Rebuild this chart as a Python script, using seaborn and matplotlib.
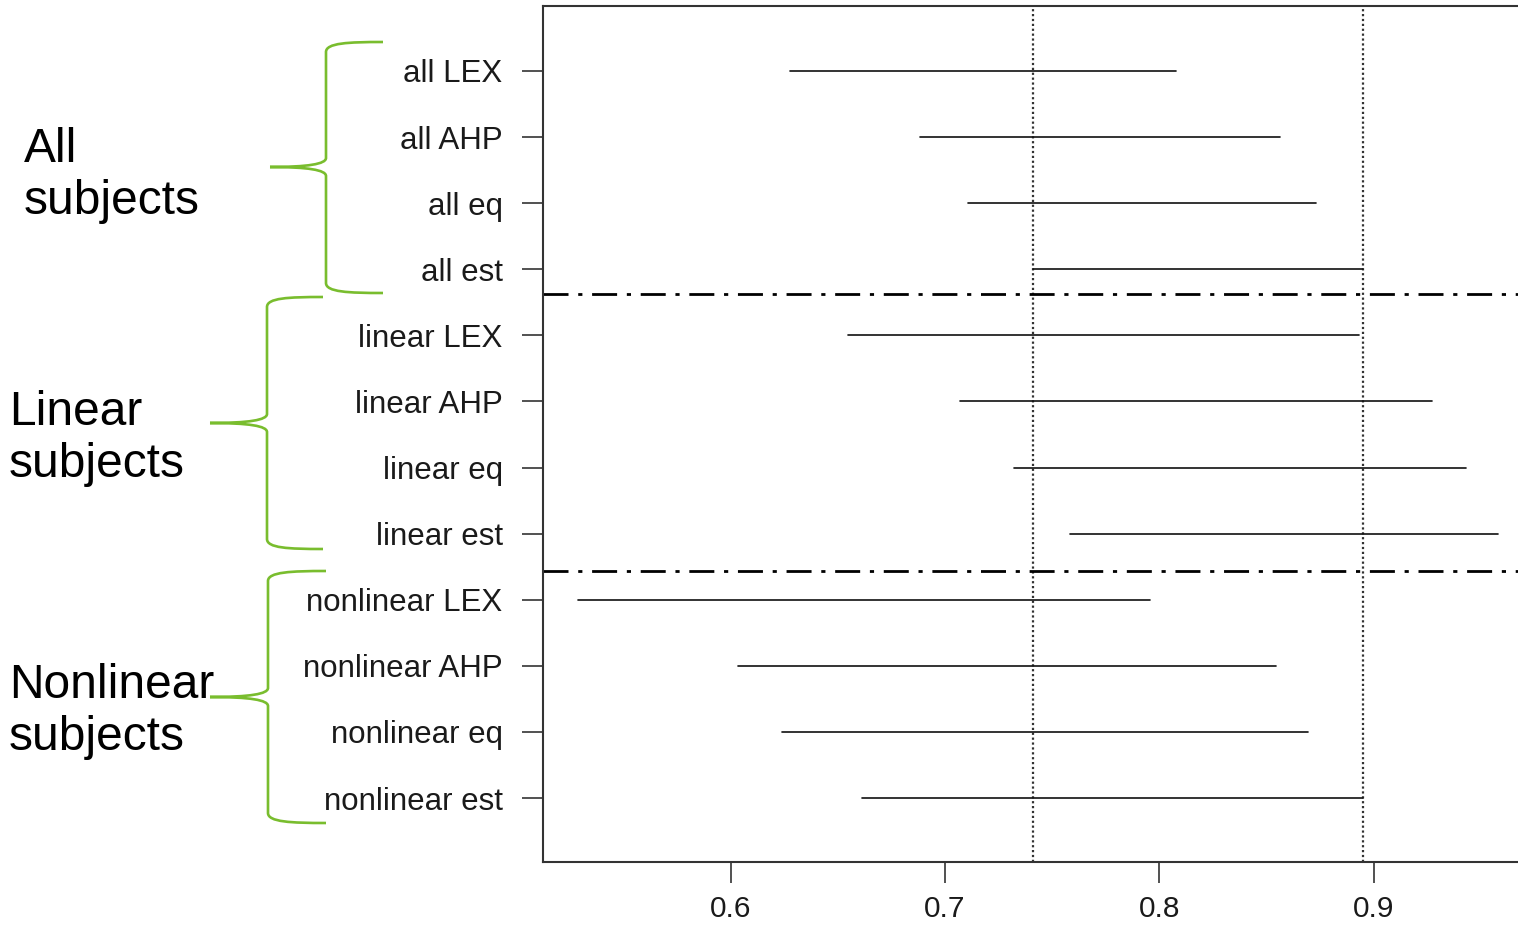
import pandas as pd
import seaborn as sns
import matplotlib.pyplot as plt
from matplotlib.path import Path
from matplotlib.patches import PathPatch

# -------------------------- Data --------------------------
LABELS = ["all LEX", "all AHP", "all eq", "all est",
          "linear LEX", "linear AHP", "linear eq", "linear est",
          "nonlinear LEX", "nonlinear AHP", "nonlinear eq", "nonlinear est"]
LOWER = [0.6276, 0.6883, 0.7107, 0.7410,
         0.6547, 0.7070, 0.7322, 0.7583,
         0.5287, 0.6034, 0.6239, 0.6612]
UPPER = [0.8078, 0.8563, 0.8731, 0.8950,
         0.8932, 0.9272, 0.9431, 0.9580,
         0.7956, 0.8544, 0.8693, 0.8950]
REF_LINES = [0.741, 0.895]          # dotted reference values
GROUP_BREAKS = [3.37, 7.57]          # dash-dot separators between groups
GROUPS = ["All\nsubjects", "Linear\nsubjects", "Nonlinear\nsubjects"]
XTICKS = [0.6, 0.7, 0.8, 0.9]

# long format: one row per interval end
df = pd.DataFrame({
    "label": LABELS * 2,
    "value": LOWER + UPPER,
})

# -------------------------- Setup --------------------------
sns.set_theme(style="ticks")
plt.rcParams["font.family"] = ["Liberation Sans", "DejaVu Sans"]

W, H = 1518, 925
fig = plt.figure(figsize=(W / 100, H / 100), dpi=100)
fig.patch.set_facecolor("white")
ax = fig.add_axes([543 / W, 1 - 862 / H, (1530 - 543) / W, (862 - 6) / H])

# -------------------------- Intervals --------------------------
sns.pointplot(
    data=df, x="value", y="label", order=LABELS,
    estimator="mean", errorbar=lambda v: (v.min(), v.max()),
    color="#111111", marker="", linestyle="none",
    err_kws={"linewidth": 1.2}, ax=ax,
)

for v in REF_LINES:
    ax.axvline(v, color="#333333", lw=1.6, linestyle=(0, (1, 1.2)), zorder=1)
for y in GROUP_BREAKS:
    ax.axhline(y, color="black", lw=2.0, linestyle=(0, (9, 3.5, 1.5, 3.5)), zorder=1)

ax.set_xlim(0.51237, 0.97294)
ax.set_ylim(11.968, -0.983)
ax.set_xticks(XTICKS)
ax.set_xticklabels([f"{t:.1f}" for t in XTICKS])
ax.set_xlabel("")
ax.set_ylabel("")
ax.tick_params(axis="both", direction="out", length=15, width=1.2, color="#333333",
               labelsize=22, labelcolor="#1a1a1a")
ax.tick_params(axis="x", pad=9, labelsize=21.5)
ax.tick_params(axis="y", pad=14, labelsize=22.5)
for s in ax.spines.values():
    s.set_visible(True)
    s.set_linewidth(1.5)
    s.set_color("#333333")

# -------------------------- Group annotations --------------------------
def fpt(x, y):
    return (x / W, 1 - y / H)


def brace(xs, xe, xt, yt, ym, yb, arm=10, tip=9):
    verts = [
        (xe, yt),
        (xe - 35, yt), (xs, yt + 1), (xs, yt + arm),
        (xs, ym - tip),
        (xs, ym - 3), (xs - 18, ym), (xt, ym),
        (xs - 18, ym), (xs, ym + 3), (xs, ym + tip),
        (xs, yb - arm),
        (xs, yb - 1), (xe - 35, yb), (xe, yb),
    ]
    codes = [Path.MOVETO,
             Path.CURVE4, Path.CURVE4, Path.CURVE4,
             Path.LINETO,
             Path.CURVE4, Path.CURVE4, Path.CURVE4,
             Path.CURVE4, Path.CURVE4, Path.CURVE4,
             Path.LINETO,
             Path.CURVE4, Path.CURVE4, Path.CURVE4]
    p = Path([fpt(*v) for v in verts], codes)
    fig.patches.append(PathPatch(p, facecolor="none", edgecolor="#79BD2E", lw=1.9,
                                 transform=fig.transFigure, figure=fig))


brace(326, 383, 270, 42, 167, 293)
brace(267, 323, 210, 297, 423, 549)
brace(268, 326, 210, 571, 697, 823)

label_pos = [(24, 176), (9, 438), (9, 712)]
for text, (x, y) in zip(GROUPS, label_pos):
    fig.text(*fpt(x, y), text, ha="left", va="center", fontsize=34.5,
             linespacing=1.2, color="black")

fig.savefig("out.png", dpi=100)
